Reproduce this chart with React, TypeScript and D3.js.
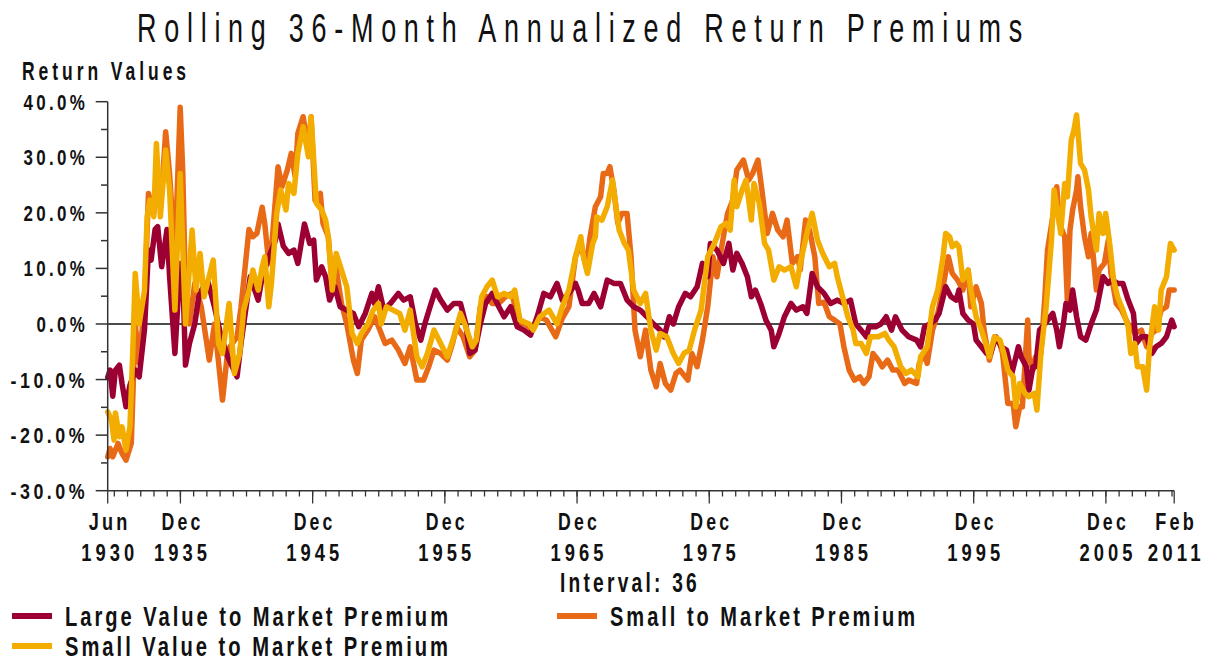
import * as d3 from "d3";

// rolling 36-month annualized premiums, % (decimal year, value)
const largeValue: [number, number][] = [
  [1930.42, -9.6], [1930.6, -8.3], [1930.8, -13], [1931.0, -8.3], [1931.3, -7.4], [1931.5, -10.7],
  [1931.8, -14.9], [1932.1, -11], [1932.5, -8.3], [1932.8, -9.5], [1933.2, -1], [1933.5, 13.3],
  [1933.7, 11.5], [1934.0, 17], [1934.2, 17.5], [1934.5, 10.3], [1934.9, 17], [1935.1, 8.5],
  [1935.5, -5.3], [1935.9, 10.9], [1936.1, 8.5], [1936.3, -7.4], [1936.6, -3.5], [1937.0, 0],
  [1937.3, 4.9], [1937.5, 6], [1937.8, 7.3], [1938.0, 7.6], [1938.5, 3], [1939.0, -2.3],
  [1939.5, -5.9], [1940.2, -9.5], [1940.5, -3.5], [1941.2, 8.5], [1941.8, 4.3], [1942.1, 8.5],
  [1942.6, 12], [1943.1, 15], [1943.3, 18], [1943.7, 14], [1944.1, 12.7], [1944.5, 13.3],
  [1944.8, 10.9], [1945.3, 18], [1945.7, 14.5], [1946.0, 15.1], [1946.2, 7.9], [1946.6, 10.3],
  [1946.9, 8.5], [1947.2, 4.3], [1947.6, 6.7], [1948.0, 3.1], [1948.5, 2.5], [1949.0, 1.9],
  [1949.4, -0.5], [1949.9, 1.9], [1950.4, 5.5], [1950.6, 3.7], [1950.9, 6.7], [1951.3, 2.5],
  [1951.8, 3.7], [1952.4, 5.5], [1952.8, 4.3], [1953.3, 4.9], [1953.7, 0], [1954.1, -2.9],
  [1954.4, 0], [1954.8, 3.1], [1955.2, 6.1], [1955.6, 4.3], [1956.1, 2.5], [1956.6, 3.7],
  [1957.1, 3.7], [1957.5, 0], [1957.8, -5.3], [1958.2, -4.7], [1958.6, 0], [1959.0, 3.7],
  [1959.5, 5.5], [1960.0, 3.1], [1960.4, 1.3], [1960.9, 3.1], [1961.4, -0.5], [1961.9, -1.1],
  [1962.4, -2], [1962.9, 1.3], [1963.4, 5.5], [1963.9, 4.9], [1964.4, 7.3], [1964.8, 4.3],
  [1965.3, 5.5], [1965.8, 7.3], [1966.0, 6.1], [1966.3, 3.7], [1966.8, 3.7], [1967.2, 5.5],
  [1967.7, 3.1], [1968.2, 7.9], [1968.7, 7.3], [1969.2, 7.3], [1969.7, 4.3], [1970.2, 3.1],
  [1970.7, 2.5], [1971.2, 1.3], [1971.7, 0], [1972.2, -1.1], [1972.5, -2.3], [1972.9, 1.3],
  [1973.2, 0], [1973.6, 3.1], [1974.1, 5.5], [1974.5, 4.9], [1975.0, 6.7], [1975.4, 10.9],
  [1975.8, 8.5], [1976.0, 14.5], [1976.5, 13.3], [1977.0, 10.9], [1977.4, 14.5], [1977.7, 9.7],
  [1978.0, 12.7], [1978.4, 10.9], [1978.8, 8.5], [1979.1, 4.9], [1979.4, 6.1], [1979.8, 3.7],
  [1980.2, 0.7], [1980.6, -1.1], [1980.8, -4.1], [1981.2, -1.7], [1981.6, 1.3], [1982.1, 3.7],
  [1982.5, 2.5], [1983.0, 3.1], [1983.3, 1.9], [1983.7, 9.1], [1984.1, 6.7], [1984.6, 5.5],
  [1985.1, 3.7], [1985.6, 4.3], [1986.1, 3.7], [1986.6, 4.3], [1987.0, 0], [1987.4, -1.1],
  [1987.8, -2.3], [1988.0, -0.5], [1988.5, -0.5], [1988.9, 0], [1989.3, 1.3], [1989.7, -1.1],
  [1990.0, 1.3], [1990.5, -1.1], [1991.0, -2.3], [1991.6, -2.9], [1991.9, -4.1], [1992.2, -0.5],
  [1992.6, 0], [1993.0, 0.7], [1993.3, 1.9], [1993.8, 6.7], [1994.2, 4.9], [1994.6, 4.3],
  [1994.8, 6.1], [1995.1, 1.9], [1995.5, 0.7], [1995.9, 0], [1996.1, -2.9], [1996.5, -4.1],
  [1996.9, -5.3], [1997.2, -5.3], [1997.6, -2.3], [1998.0, -4.1], [1998.4, -4.7], [1998.8, -8.9],
  [1999.3, -4.1], [1999.5, -5.9], [1999.9, -7.7], [2000.1, -11.9], [2000.4, -7.7], [2000.6, -7.7],
  [2000.9, -1.1], [2001.3, 0], [2001.7, 1.3], [2001.9, 1.9], [2002.2, -1.1], [2002.4, -4.1],
  [2002.7, 0], [2002.9, 3.7], [2003.2, 2.5], [2003.4, 6.1], [2003.7, 1.3], [2004.0, -2.3],
  [2004.4, -2.9], [2004.8, 0], [2005.2, 2.5], [2005.4, 4.9], [2005.7, 8.5], [2006.1, 7.3],
  [2006.4, 7.9], [2006.8, 7.3], [2007.2, 7.3], [2007.6, 4.3], [2008.0, 1.9], [2008.2, -3.5],
  [2008.6, -2.3], [2009.0, -2.3], [2009.4, -5.3], [2009.7, -4.1], [2010.1, -3.5], [2010.5, -2.3],
  [2010.9, 0.7], [2011.08, -0.5],
];

const small: [number, number][] = [
  [1930.42, -23.9], [1930.6, -22.4], [1930.8, -23.9], [1931.2, -21.5], [1931.5, -23.3], [1931.8, -24.5],
  [1932.2, -21.5], [1932.5, 0], [1932.8, -7], [1933.2, 3.7], [1933.5, 23.5], [1933.9, 19.9],
  [1934.1, 26.5], [1934.5, 23.5], [1934.8, 34.6], [1935.1, 27], [1935.5, 12.1], [1935.9, 39],
  [1936.1, 27], [1936.3, 6], [1936.6, 0], [1937.0, 7.3], [1937.5, 3], [1938.1, -6.5],
  [1938.5, 0], [1939.1, -13.7], [1939.5, -4.7], [1940.2, -2.3], [1940.5, 3], [1941.1, 17],
  [1941.4, 15.7], [1941.7, 16.3], [1942.1, 21], [1942.3, 18], [1942.6, 10.9], [1942.8, 13.3],
  [1943.3, 28.3], [1943.6, 24.7], [1944.0, 27.7], [1944.3, 30.7], [1944.6, 26.5], [1944.8, 34.3],
  [1945.2, 37.3], [1945.6, 31.3], [1945.8, 37.3], [1946.1, 22.3], [1946.5, 23.5], [1946.7, 18.1],
  [1947.1, 15.7], [1947.4, 7.3], [1947.6, 11.5], [1948.1, 3.7], [1948.5, 0], [1949.0, -6.5],
  [1949.3, -8.9], [1949.6, -2.9], [1950.1, -1.1], [1950.6, 1.3], [1951.0, -1.1], [1951.4, -3.5],
  [1951.9, -2.9], [1952.4, -4.7], [1952.9, -7.1], [1953.3, -4.1], [1953.8, -10.1], [1954.3, -10.1],
  [1954.7, -7.7], [1955.1, -4.7], [1955.6, -5.3], [1956.1, -6.5], [1956.5, -3.5], [1956.8, -0.5],
  [1957.3, -2.3], [1957.8, -5.9], [1958.2, -4.7], [1958.6, 3.1], [1959.1, 4.9], [1959.5, 3.7],
  [1960.0, 3.7], [1960.5, 4.9], [1961.0, 5.5], [1961.5, 0], [1962.0, 0], [1962.5, -1.1],
  [1963.1, 1.3], [1963.6, 0.7], [1964.3, -2.3], [1964.8, 1], [1965.3, 3.1], [1965.8, 12.1],
  [1966.2, 14.5], [1966.6, 10.3], [1966.9, 15.7], [1967.3, 21.1], [1967.7, 22.9], [1967.9, 27.1],
  [1968.2, 27.1], [1968.4, 28.3], [1968.7, 24.1], [1969.0, 18.1], [1969.3, 19.9], [1969.7, 19.9],
  [1970.0, 12.1], [1970.3, -1.1], [1970.7, -5.9], [1971.1, -1.1], [1971.5, -8.3], [1971.9, -11.3],
  [1972.2, -7.1], [1972.6, -10.7], [1973.0, -11.9], [1973.4, -8.9], [1973.7, -8.3], [1974.3, -10.1],
  [1974.6, -5.3], [1975.0, -7.7], [1975.4, -2.9], [1975.8, 3.1], [1976.2, 12.1], [1976.5, 8.5],
  [1976.9, 14.5], [1977.3, 19.9], [1977.7, 22.3], [1978.0, 27.7], [1978.5, 29.5], [1978.9, 25.9],
  [1979.2, 27.1], [1979.6, 29.5], [1979.9, 24.1], [1980.3, 16.3], [1980.7, 19.9], [1981.1, 16.9],
  [1981.5, 15.7], [1981.8, 18.7], [1982.2, 10.9], [1982.6, 12.1], [1982.8, 9.7], [1983.2, 18.7],
  [1983.5, 16.9], [1983.9, 12.1], [1984.2, 3.7], [1984.6, 3.9], [1985.0, 1.3], [1985.4, 0.7],
  [1985.8, 0], [1986.1, -4.1], [1986.5, -8.3], [1986.9, -10.1], [1987.3, -9.5], [1987.6, -10.7],
  [1988.0, -9.5], [1988.3, -5.3], [1988.7, -6.5], [1989.0, -7.7], [1989.4, -6.5], [1989.8, -8.3],
  [1990.2, -8.3], [1990.7, -10.7], [1991.0, -10.1], [1991.6, -10.7], [1991.8, -7.1], [1992.2, -5.3],
  [1992.4, -7.1], [1992.8, -1.1], [1993.2, 1.9], [1993.6, 6.7], [1994.0, 12.1], [1994.3, 9.1],
  [1994.7, 7.9], [1995.1, 6.1], [1995.5, 9.7], [1995.7, 3.1], [1996.1, 6.7], [1996.5, 3.7],
  [1996.7, -1.1], [1997.1, -6.5], [1997.5, -2.3], [1997.9, -3.5], [1998.1, -5.3], [1998.5, -14.3],
  [1998.9, -14.3], [1999.1, -18.5], [1999.4, -14.9], [1999.6, -14.9], [2000.0, 0.7], [2000.1, -5.9],
  [2000.4, -8.3], [2000.6, -5.9], [2001.0, -5.3], [2001.3, 4.9], [2001.5, 13.3], [2001.9, 19.3],
  [2002.2, 24.7], [2002.4, 18.1], [2002.8, 15.7], [2003.0, 4.3], [2003.2, 16.9], [2003.4, 20.5],
  [2003.7, 24.1], [2003.8, 26.5], [2004.0, 21.1], [2004.3, 15.7], [2004.6, 12.1], [2004.8, 16.3],
  [2005.2, 6.1], [2005.4, 9.7], [2005.8, 10.9], [2006.1, 15.1], [2006.3, 9.1], [2006.7, 3.7],
  [2007.1, 2.5], [2007.6, 0], [2008.1, -1.7], [2008.6, -1.1], [2009.0, -4.1], [2009.4, -1.7],
  [2009.7, -1.1], [2010.1, 2.5], [2010.5, 3.1], [2010.7, 6.1], [2011.08, 6.1],
];

const smallValue: [number, number][] = [
  [1930.42, -15.8], [1930.7, -17.3], [1930.9, -20.9], [1931.0, -16], [1931.3, -20.3], [1931.5, -18.5],
  [1931.8, -22.7], [1932.1, -18.5], [1932.3, -5.9], [1932.5, 9.1], [1932.8, 0], [1933.2, 6],
  [1933.4, 19.3], [1933.6, 22.3], [1933.9, 19.3], [1934.1, 32.5], [1934.4, 19.3], [1934.8, 31.3],
  [1935.1, 24.1], [1935.5, 2.5], [1935.9, 27.1], [1936.3, 0], [1936.8, 16.9], [1937.1, 6.1],
  [1937.4, 12.7], [1937.7, 4.9], [1938.4, 11.5], [1938.8, -3.5], [1939.1, -5.3], [1939.6, 3.7],
  [1940.0, -8.9], [1940.4, -5.3], [1940.7, 2.5], [1941.1, 6.1], [1941.4, 9.7], [1941.8, 6.1],
  [1942.1, 10.3], [1942.3, 12.1], [1942.6, 3.1], [1942.8, 7.3], [1943.2, 19.9], [1943.5, 24.1],
  [1943.9, 20.5], [1944.1, 25.3], [1944.5, 23.5], [1944.8, 30.7], [1945.2, 35.5], [1945.6, 30.1],
  [1945.8, 37.3], [1946.2, 21.7], [1946.6, 20.5], [1946.9, 18.7], [1947.1, 15.7], [1947.4, 6.1],
  [1947.7, 12.7], [1948.1, 9.7], [1948.5, 6.7], [1948.9, -1.7], [1949.3, -3.5], [1949.6, -1.7],
  [1950.1, 0], [1950.5, 2.5], [1950.9, 3.7], [1951.1, 0], [1951.5, 3.1], [1952.0, 2.5],
  [1952.5, 1.9], [1952.9, -1.1], [1953.3, 2.5], [1953.8, -5.9], [1954.2, -7.7], [1954.6, -5.3],
  [1955.1, -1.1], [1955.6, -3.5], [1956.1, -5.9], [1956.6, -2.3], [1957.1, 1.9], [1957.5, -0.5],
  [1958.0, -4.1], [1958.3, -2.9], [1958.7, 4.9], [1959.1, 6.7], [1959.5, 7.9], [1959.9, 4.9],
  [1960.4, 5.5], [1960.9, 4.9], [1961.2, 6.1], [1961.6, 0.7], [1962.3, 0], [1962.6, -1.1],
  [1963.1, 1.3], [1963.8, 2.5], [1964.4, 0], [1964.8, 3.1], [1965.3, 6.1], [1965.8, 12.1],
  [1966.2, 15.7], [1966.4, 12.1], [1966.7, 9.1], [1967.1, 14.5], [1967.3, 15.7], [1967.4, 19.3],
  [1967.8, 18.7], [1968.2, 21.1], [1968.6, 25.9], [1968.8, 22.3], [1969.1, 16.9], [1969.5, 14.5],
  [1969.8, 13.3], [1970.2, 6.1], [1970.7, 3.7], [1971.1, 5.5], [1971.5, -1.1], [1971.9, -4.7],
  [1972.2, -1.7], [1972.7, -2.3], [1973.2, -5.3], [1973.6, -7.1], [1974.0, -5.3], [1974.4, -4.7],
  [1974.8, -1.1], [1975.3, 2.5], [1975.8, 12.1], [1976.3, 14.5], [1976.8, 17.5], [1977.2, 18.1],
  [1977.5, 16.9], [1977.8, 25.9], [1978.0, 21.1], [1978.4, 24.1], [1978.7, 25.9], [1979.1, 18.7],
  [1979.3, 25.3], [1979.7, 21.7], [1980.1, 14.5], [1980.4, 13.3], [1980.8, 7.9], [1981.2, 10.3],
  [1981.6, 9.7], [1982.1, 10.3], [1982.5, 6.7], [1982.8, 10.9], [1983.3, 16.3], [1983.7, 19.9],
  [1984.1, 15.1], [1984.5, 12.7], [1985.0, 10.3], [1985.4, 10.9], [1985.6, 8.5], [1986.0, 4.9],
  [1986.4, 1.3], [1986.8, -1.1], [1987.0, -3.5], [1987.4, -3.5], [1987.8, -5.3], [1988.1, -2.3],
  [1988.7, -2.3], [1989.2, -1.7], [1989.5, -2.9], [1989.9, -4.1], [1990.4, -7.7], [1990.8, -8.9],
  [1991.2, -8.3], [1991.7, -9.5], [1991.9, -5.9], [1992.4, -4.1], [1992.8, 3.1], [1993.2, 6.1],
  [1993.6, 12.1], [1993.8, 16.3], [1994.1, 15.7], [1994.3, 13.9], [1994.6, 14.5], [1994.8, 13.9],
  [1995.1, 7.9], [1995.5, 9.7], [1995.7, 6.1], [1996.1, 1.3], [1996.5, -1.1], [1996.9, -4.1],
  [1997.1, -5.9], [1997.5, -2.3], [1997.9, -2.9], [1998.2, -5.3], [1998.5, -8.3], [1998.9, -9.5],
  [1999.1, -14.9], [1999.4, -10.7], [1999.8, -12.5], [2000.1, -13.1], [2000.5, -12.5], [2000.7, -15.5],
  [2001.0, -5.3], [2001.4, 3.1], [2001.8, 15.1], [2002.0, 24.1], [2002.3, 19.9], [2002.5, 16.3],
  [2002.8, 25.3], [2003.0, 22.9], [2003.3, 33.1], [2003.5, 34.9], [2003.7, 37.6], [2004.0, 28.9],
  [2004.3, 27.7], [2004.6, 24.1], [2004.8, 19.3], [2005.2, 13.3], [2005.4, 19.9], [2005.7, 16.3],
  [2005.9, 19.9], [2006.2, 14.5], [2006.5, 7.9], [2006.8, 4.9], [2007.2, 2.5], [2007.6, -0.5],
  [2007.8, -5.3], [2008.1, -3.5], [2008.3, -7.7], [2008.7, -7.7], [2009.0, -11.9], [2009.2, -4.7],
  [2009.6, 3.1], [2009.9, -1.1], [2010.1, 6.1], [2010.5, 8.5], [2010.8, 14.5], [2011.08, 13.3],
];

const seriesNames = [
  "Large Value to Market Premium",
  "Small to Market Premium",
  "Small Value to Market Premium",
];
const seriesColors = ["#9c0033", "#e86a17", "#f2ad00"];
const drawOrder = [1, 0, 2]; // orange underneath, gold on top

// labelled x ticks: [decimal year, month, year]
const xLabels: [number, string, string][] = [
  [1930.417, "Jun", "1930"], [1935.917, "Dec", "1935"], [1945.917, "Dec", "1945"],
  [1955.917, "Dec", "1955"], [1965.917, "Dec", "1965"], [1975.917, "Dec", "1975"],
  [1985.917, "Dec", "1985"], [1995.917, "Dec", "1995"], [2005.917, "Dec", "2005"],
  [2011.083, "Feb", "2011"],
];
const yTicks = [40, 30, 20, 10, 0, -10, -20, -30];

const FONT = "'Liberation Sans Narrow', 'Liberation Sans', sans-serif";

// narrow, tall, widely spaced lettering like the original
function Label({ x, y, len, size, ls, sy = 1.2, anchor = "start", weight = "bold", children }: any) {
  return (
    <text transform={`translate(${x},${y}) scale(1,${sy})`} fontSize={size} fontFamily={FONT}
      fontWeight={weight} letterSpacing={ls} textAnchor={anchor} textLength={len}
      lengthAdjust="spacingAndGlyphs" fill="#111">
      {children}
    </text>
  );
}

export default function App() {
  const x = d3.scaleLinear().domain([1930.417, 2011.083]).range([107.7, 1174.2]);
  const y = d3.scaleLinear().domain([-30, 40]).range([490.7, 101.7]);
  const line = d3.line<[number, number]>().x(d => x(d[0])).y(d => y(d[1]));
  const data = [largeValue, small, smallValue];

  const minorY = d3.range(-30, 41, 5);
  const minorX = d3.range(1930.917, 2011, 1);

  return (
    <svg width={1209} height={662} style={{ position: "absolute", left: 0, top: 0, background: "#fff" }}>
      <Label x={137} y={42} len={893} size={30} ls={8.6} sy={1.35} weight="normal">
        Rolling 36-Month Annualized Return Premiums
      </Label>
      <Label x={22} y={80} len={168} size={20} ls={4.5} sy={1.25}>Return Values</Label>

      {/* zero line */}
      <line x1={x.range()[0]} x2={x.range()[1]} y1={y(0)} y2={y(0)} stroke="#111" strokeWidth={1.6} />

      {/* series */}
      {drawOrder.map(i => (
        <path key={i} d={line(data[i]) || ""} fill="none" stroke={seriesColors[i]} strokeWidth={5.5}
          strokeLinejoin="round" strokeLinecap="round" />
      ))}

      {/* y axis */}
      <line x1={107.7} x2={107.7} y1={y(40)} y2={y(-30)} stroke="#333" strokeWidth={1.5} />
      {minorY.map(v => (
        <line key={v} x1={v % 10 === 0 ? 95.7 : 101} x2={107.7} y1={y(v)} y2={y(v)} stroke="#333" strokeWidth={1.5} />
      ))}
      {yTicks.map(v => {
        const s = `${v.toFixed(1)}%`;
        return (
          <Label key={v} x={88} y={y(v) + 8} len={s.length * 12.9} size={20} ls={3.9} sy={1.1} anchor="end">{s}</Label>
        );
      })}

      {/* x axis */}
      <line x1={107.7} x2={1174.2} y1={490.7} y2={490.7} stroke="#333" strokeWidth={1.5} />
      {minorX.map(t => (
        <line key={t} x1={x(t)} x2={x(t)} y1={490.7} y2={496.5} stroke="#333" strokeWidth={1.3} />
      ))}
      {xLabels.map(([t, m, yr]) => (
        <g key={t}>
          <line x1={x(t)} x2={x(t)} y1={490.7} y2={503.5} stroke="#333" strokeWidth={1.3} />
          <Label x={x(t) + 2} y={530} len={42} size={20} ls={3.6} anchor="middle">{m}</Label>
          <Label x={x(t) + 2} y={561} len={57} size={20} ls={4.4} anchor="middle">{yr}</Label>
        </g>
      ))}
      <Label x={560} y={592} len={140} size={22} ls={3.7} sy={1.25}>Interval: 36</Label>

      {/* legend */}
      {[[12, 616, 65, 386], [557, 616, 610, 308], [12, 646, 65, 386]].map(([sx, sy, tx, len], i) => (
        <g key={i}>
          <line x1={sx} x2={sx + 40} y1={sy} y2={sy} stroke={seriesColors[i]} strokeWidth={6} />
          <Label x={tx} y={sy + 10} len={len} size={23} ls={3.4} sy={1.2}>{seriesNames[i]}</Label>
        </g>
      ))}
    </svg>
  );
}
